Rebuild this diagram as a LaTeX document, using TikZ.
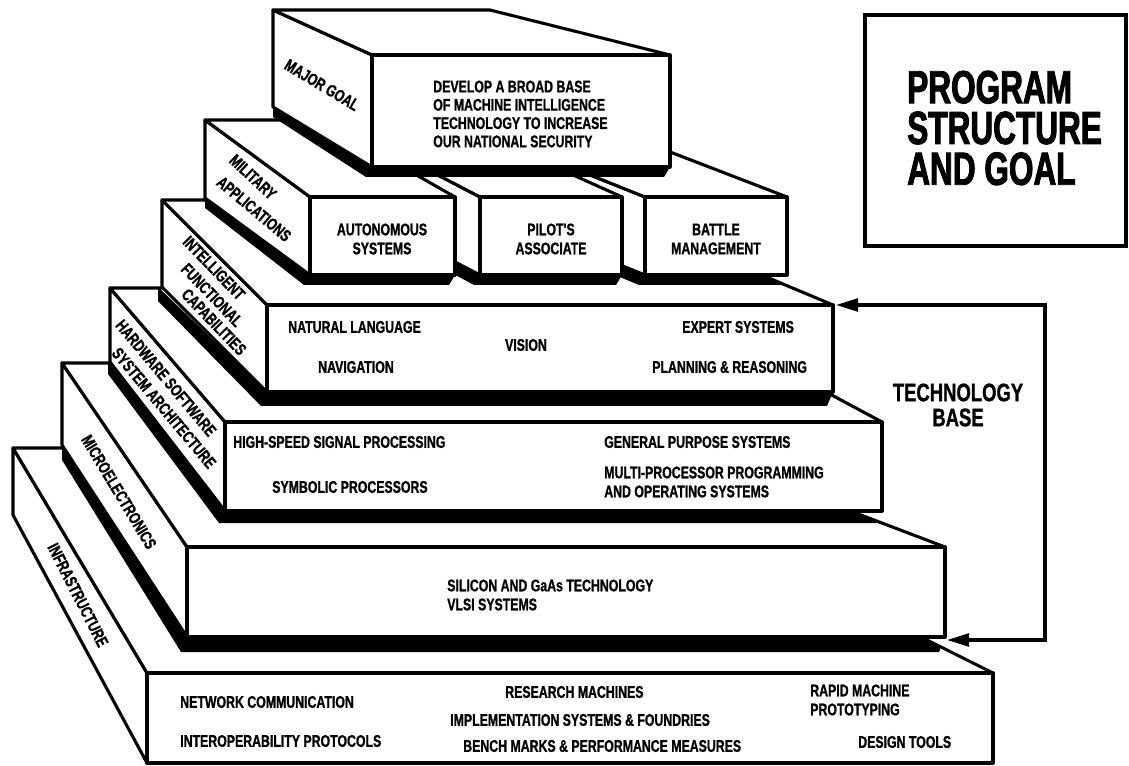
\documentclass[tikz,border=0pt]{standalone}
\usepackage{fontspec}
\newfontfamily\cond[FakeStretch=0.73,BoldFeatures={FakeBold=1}]{Liberation Sans}
\newfontfamily\condhead[FakeStretch=0.68,BoldFeatures={FakeBold=2}]{Liberation Sans}
\usetikzlibrary{arrows.meta}

\tikzset{
  face/.style={draw=black, fill=white, line width=2.2pt, line join=round},
  shadowband/.style={fill=black},
  tiertext/.style={font=\cond\bfseries\fontsize{12}{13.5}\selectfont, inner sep=0pt},
  goaltext/.style={font=\cond\bfseries\fontsize{12}{13}\selectfont, inner sep=0pt, align=left},
  sidetext/.style={tiertext, align=center},
  headtext/.style={font=\condhead\bfseries\fontsize{33}{29}\selectfont, inner sep=0pt, align=left},
  basetext/.style={font=\cond\bfseries\fontsize{18}{17.8}\selectfont, inner sep=0pt, align=center},
  titlebox/.style={draw=black, line width=2.2pt},
  techline/.style={draw=black, line width=2.2pt,
    arrows={Triangle[length=5.5mm,width=3.2mm]-Triangle[length=5.5mm,width=3.2mm]}},
}

% front xl,yt,xr,yb ; back corner bx,by ; back bottom y ; back right x
\newcommand{\tierfaces}[8]{%
  \filldraw[face] (#5,#6) -- (#1,#2) -- (#1,#4) -- (#5,#7) -- cycle;
  \filldraw[face] (#5,#6) -- (#1,#2) -- (#3,#2) -- (#8,#6) -- cycle;
  \filldraw[face] (#1,#2) rectangle (#3,#4);
}
% xl,yb,xr ; bx,bottom y ; band depth
\newcommand{\tiershade}[6]{%
  \fill[shadowband] (#4,#5) -- (#1,#2) -- (#3,#2) -- ++(-6,#6)
    -- ({#1-6},{#2+#6}) -- ({#4},{#5+#6}) -- cycle;
}
% top face of the slab below: xl,yt,xr ; back right x ; bx,by
\newcommand{\tiertop}[6]{\clip (#5,#6) -- (#1,#2) -- (#3,#2) -- (#4,#6) -- cycle;}

\begin{document}
\begin{tikzpicture}[x=0.025cm, y=-0.025cm]
  \fill[white] (0,0) rectangle (1129,766);
  \useasboundingbox (0,0) rectangle (1129,766);

  % infrastructure
  \tierfaces{147}{673}{993}{763}{13}{448}{515}{543}
  % microelectronics
  \begin{scope}
    \tiertop{147}{673}{993}{543}{13}{448}
    \tiershade{187}{637}{945}{62}{445}{15}
  \end{scope}
  \tierfaces{187}{547}{945}{637}{62}{363}{445}{461}
  % hardware software
  \begin{scope}
    \tiertop{187}{547}{945}{461}{62}{363}
    \tiershade{225}{511}{882}{108}{362}{12}
  \end{scope}
  \tierfaces{225}{422}{882}{511}{110}{288}{362}{632}
  % intelligent functional capabilities
  \begin{scope}
    \tiertop{225}{422}{882}{632}{110}{288}
    \tiershade{267}{392}{833}{158}{287}{14}
  \end{scope}
  \tierfaces{267}{305}{833}{392}{162}{200}{287}{583}
  % military applications
  \begin{scope}
    \tiertop{267}{305}{833}{583}{162}{200}
    \tiershade{645}{275}{787}{453}{198}{10}
    \tiershade{480}{275}{622}{332}{198}{10}
    \tiershade{310}{275}{455}{205}{198}{10}
  \end{scope}
  \tierfaces{645}{197}{787}{275}{453}{120}{198}{587}
  \tierfaces{480}{197}{622}{275}{332}{120}{198}{451}
  \tierfaces{310}{197}{455}{275}{205}{120}{198}{320}
  % major goal
  \tiershade{372}{167}{670}{273}{107}{10}
  \tierfaces{372}{55}{670}{167}{273}{10}{107}{490}

  % side labels
  \node[sidetext, rotate=-31] (majorL) at (322,85) {MAJOR GOAL};
  \node[sidetext, rotate=-43] (milA) at (253,177) {MILITARY};
  \node[sidetext, rotate=-40] (milB) at (254,209) {APPLICATIONS};
  \node[sidetext, rotate=-46] (ifcA) at (214,268) {INTELLIGENT};
  \node[sidetext, rotate=-46] (ifcB) at (212,295) {FUNCTIONAL};
  \node[sidetext, rotate=-46] (ifcC) at (214,322) {CAPABILITIES};
  \node[sidetext, rotate=-50] (hwA) at (166,378) {HARDWARE SOFTWARE};
  \node[sidetext, rotate=-50] (hwB) at (164,408) {SYSTEM ARCHITECTURE};
  \node[sidetext, rotate=-59] (microL) at (119,492) {MICROELECTRONICS};
  \node[sidetext, rotate=-63] (infraL) at (78,595) {INFRASTRUCTURE};

  % front texts
  \node[goaltext, anchor=west] (goal) at (433,114)
    {DEVELOP A BROAD BASE\\OF MACHINE INTELLIGENCE\\TECHNOLOGY TO INCREASE\\OUR NATIONAL SECURITY};
  \node[sidetext] (auto) at (382,239) {AUTONOMOUS\\SYSTEMS};
  \node[sidetext] (pilot) at (551,239) {PILOT'S\\ASSOCIATE};
  \node[sidetext] (battle) at (716,239) {BATTLE\\MANAGEMENT};

  \node[tiertext, anchor=west] (nat) at (288,327) {NATURAL LANGUAGE};
  \node[tiertext] (nav) at (356,367) {NAVIGATION};
  \node[tiertext] (vis) at (526,345) {VISION};
  \node[tiertext, anchor=west] (expert) at (682,327) {EXPERT SYSTEMS};
  \node[tiertext, anchor=west] (plan) at (652,367) {PLANNING \& REASONING};

  \node[tiertext, anchor=west] (hss) at (233,442) {HIGH-SPEED SIGNAL PROCESSING};
  \node[tiertext, anchor=west] (sym) at (272,487) {SYMBOLIC PROCESSORS};
  \node[tiertext, anchor=west] (gps) at (604,442) {GENERAL PURPOSE SYSTEMS};
  \node[tiertext, anchor=west, align=left] (mpp) at (604,482)
    {MULTI-PROCESSOR PROGRAMMING\\AND OPERATING SYSTEMS};

  \node[tiertext, anchor=west, align=left] (sil) at (447,595)
    {SILICON AND GaAs TECHNOLOGY\\VLSI SYSTEMS};

  \node[tiertext, anchor=west] (net) at (180,702) {NETWORK COMMUNICATION};
  \node[tiertext, anchor=west] (iop) at (180,741) {INTEROPERABILITY PROTOCOLS};
  \node[tiertext, anchor=west] (res) at (505,692) {RESEARCH MACHINES};
  \node[tiertext, anchor=west] (impl) at (450,720) {IMPLEMENTATION SYSTEMS \& FOUNDRIES};
  \node[tiertext, anchor=west] (bench) at (463,746) {BENCH MARKS \& PERFORMANCE MEASURES};
  \node[tiertext, anchor=west, align=left] (rapid) at (810,700) {RAPID MACHINE\\PROTOTYPING};
  \node[tiertext, anchor=west] (design) at (858,742) {DESIGN TOOLS};

  % title
  \draw[titlebox] (865,15) rectangle (1126,246);
  \node[headtext, anchor=west] (head) at (907,128) {PROGRAM\\STRUCTURE\\AND GOAL};

  % technology base bracket
  \node[basetext] (techbase) at (958,405) {TECHNOLOGY\\BASE};
  \coordinate (tecTop) at (836,305);
  \coordinate (tecBot) at (947,640);
  \draw[techline] (tecTop) -- ++(209,0) |- (tecBot);
\end{tikzpicture}
\end{document}
